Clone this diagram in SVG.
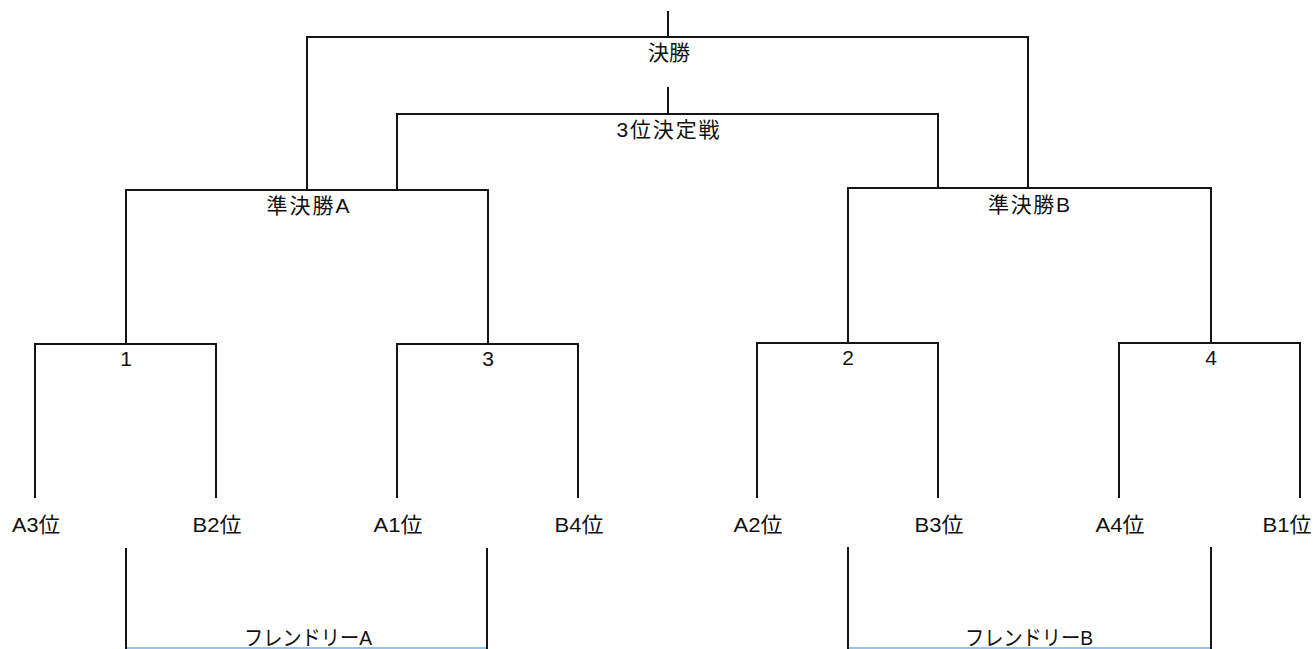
<svg xmlns="http://www.w3.org/2000/svg" width="1314" height="649" viewBox="0 0 1314 649">
<style>
.c{fill:none;stroke:#151515;stroke-width:2;stroke-linecap:square}
.f{fill:none;stroke:#9cc0e6;stroke-width:2}
text{font-family:"Liberation Sans","Noto Sans CJK JP",sans-serif;font-size:21px;fill:#111;text-anchor:middle}
</style>
<rect width="1314" height="649" fill="#fff"/>
<g id="connectors">
<path class="c" d="M668,12V37M307,190V37H1028V188"/>
<path class="c" d="M668,88V114M397,190V114H938V188"/>
<path class="c" d="M126,344V190H488V344"/>
<path class="c" d="M848,343V188H1211V343"/>
<path class="c" d="M35,497V344H216V497"/>
<path class="c" d="M397,497V344H578V497"/>
<path class="c" d="M757,497V343H938V497"/>
<path class="c" d="M1119,497V343H1300V497"/>
<path class="c" d="M126,549V649M487,549V649"/>
<path class="c" d="M848,548V649M1211,548V649"/>
<path class="f" d="M127,648H486M849,648H1210"/>
</g>
<g id="final"><text x="669" y="60" textLength="42" lengthAdjust="spacingAndGlyphs">決勝</text></g>
<g id="third"><text x="668" y="137" textLength="103">3位決定戦</text></g>
<g id="semiA"><text x="308" y="213" textLength="83">準決勝A</text></g>
<g id="semiB"><text x="1029" y="212" textLength="82">準決勝B</text></g>
<g id="m1"><text x="126" y="366">1</text></g>
<g id="m3"><text x="488" y="366">3</text></g>
<g id="m2"><text x="848" y="365">2</text></g>
<g id="m4"><text x="1211" y="365">4</text></g>
<g id="A3"><text x="36" y="532" textLength="48" lengthAdjust="spacingAndGlyphs">A3位</text></g>
<g id="B2"><text x="217" y="532" textLength="49" lengthAdjust="spacingAndGlyphs">B2位</text></g>
<g id="A1"><text x="398" y="532" textLength="49" lengthAdjust="spacingAndGlyphs">A1位</text></g>
<g id="B4"><text x="579" y="532" textLength="49" lengthAdjust="spacingAndGlyphs">B4位</text></g>
<g id="A2"><text x="758" y="532" textLength="49" lengthAdjust="spacingAndGlyphs">A2位</text></g>
<g id="B3"><text x="939" y="532" textLength="49" lengthAdjust="spacingAndGlyphs">B3位</text></g>
<g id="A4"><text x="1120" y="532" textLength="49" lengthAdjust="spacingAndGlyphs">A4位</text></g>
<g id="B1"><text x="1287" y="532" textLength="49" lengthAdjust="spacingAndGlyphs">B1位</text></g>
<g id="friendlyA"><text x="308" y="645" textLength="128" lengthAdjust="spacingAndGlyphs">フレンドリーA</text></g>
<g id="friendlyB"><text x="1029" y="645" textLength="128" lengthAdjust="spacingAndGlyphs">フレンドリーB</text></g>
</svg>
